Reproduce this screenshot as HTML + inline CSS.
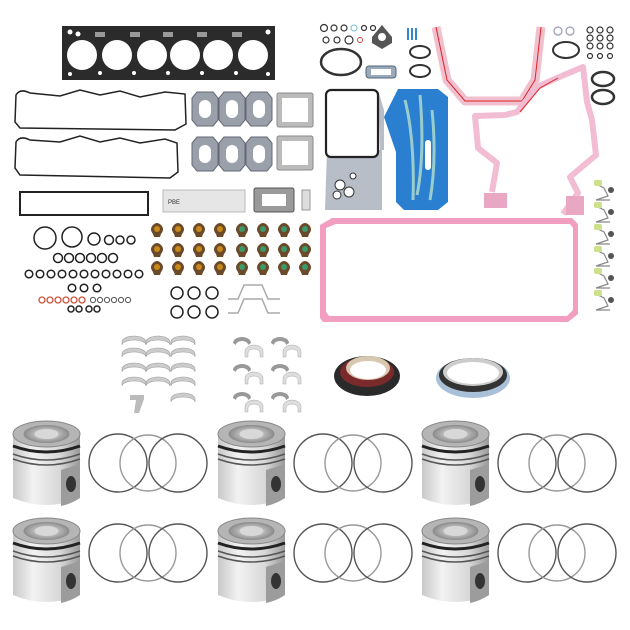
<!DOCTYPE html>
<html><head><meta charset="utf-8"><style>
html,body{margin:0;padding:0;background:#fff;width:630px;height:630px;overflow:hidden}
svg{display:block}
</style></head><body>
<svg width="630" height="630" viewBox="0 0 630 630" xmlns="http://www.w3.org/2000/svg">
<defs>
<linearGradient id="pb" x1="0" x2="1"><stop offset="0" stop-color="#c9c9c9"/><stop offset=".3" stop-color="#f2f2f2"/><stop offset=".7" stop-color="#d8d8d8"/><stop offset="1" stop-color="#9a9a9a"/></linearGradient>
<radialGradient id="pc"><stop offset="0" stop-color="#eee"/><stop offset="1" stop-color="#8a8a8a"/></radialGradient>
<g id="piston">
<path d="M0,14 L0,78 Q33,92 67,78 L67,14 Z" fill="url(#pb)"/>
<path d="M48,50 L67,44 L67,78 Q58,84 48,86 Z" fill="#9c9c9c"/>
<ellipse cx="58" cy="64" rx="5" ry="8" fill="#333"/>
<path d="M0,26 Q33,38 67,26" stroke="#222" stroke-width="3" fill="none"/>
<path d="M0,34 Q33,46 67,34" stroke="#555" stroke-width="1.5" fill="none"/>
<path d="M0,39 Q33,51 67,39" stroke="#555" stroke-width="1.5" fill="none"/>
<ellipse cx="33.5" cy="14" rx="33.5" ry="13" fill="#b5b5b5" stroke="#888"/>
<ellipse cx="33.5" cy="14" rx="23" ry="9" fill="url(#pc)"/>
<ellipse cx="33.5" cy="14" rx="12" ry="5" fill="#d8d8d8"/>
</g>
<g id="rings" fill="none" stroke-width="1.4">
<circle cx="0" cy="0" r="29" stroke="#555"/>
<circle cx="30" cy="0" r="28" stroke="#999"/>
<circle cx="60" cy="0" r="29" stroke="#555"/>
</g>
<g id="seal"><path d="M0,0 q-4,-5 0,-9 q4,-4 8,0 q4,4 0,9 l-1,3 h-6 z" fill="#6b4a2a"/><circle cx="4" cy="-5" r="3"/></g>
<g id="rodb"><path d="M0,0 a9,6 0 0 1 18,0 l-3,2 a6,4 0 0 0 -12,0 z" fill="#999"/><path d="M12,8 a9,6 0 0 1 18,0 v6 l-3,0 v-4 a6,4 0 0 0 -12,0 v4 h-3z" fill="#ddd" stroke="#aaa" stroke-width=".5"/></g>
<g id="mainb"><path d="M0,6 a12,6 0 0 1 24,0 v3 a12,5 0 0 0 -24,0 z" fill="#ccc" stroke="#999" stroke-width=".6"/></g>
<g id="exh"><path d="M5,0 h16 l5,6 v22 l-5,6 h-16 l-5,-6 v-22z" fill="#9aa0aa" stroke="#667"/><rect x="7" y="8" width="12" height="18" rx="6" fill="#fff"/></g>
</defs>

<!-- head gasket -->
<rect x="62" y="26" width="213" height="54" fill="#2b2b2b"/>
<g fill="#fff"><circle cx="82" cy="55" r="15"/><circle cx="117" cy="55" r="15"/><circle cx="152" cy="55" r="15"/><circle cx="185" cy="55" r="15"/><circle cx="218" cy="55" r="15"/><circle cx="253" cy="55" r="15"/></g>
<g fill="#fff"><circle cx="70" cy="32" r="2.5"/><circle cx="78" cy="34" r="2.5"/><circle cx="70" cy="74" r="2"/><circle cx="268" cy="32" r="2.5"/><circle cx="268" cy="74" r="2"/><circle cx="100" cy="73" r="2"/><circle cx="134" cy="73" r="2"/><circle cx="168" cy="73" r="2"/><circle cx="202" cy="73" r="2"/><circle cx="236" cy="73" r="2"/></g>
<g fill="#999"><rect x="95" y="32" width="10" height="5"/><rect x="130" y="32" width="10" height="5"/><rect x="163" y="32" width="10" height="5"/><rect x="197" y="32" width="10" height="5"/><rect x="232" y="32" width="10" height="5"/></g>

<!-- valve cover gaskets -->
<path d="M16,95 Q20,88 30,93 L60,96 L80,90 L100,95 L120,91 L140,97 L165,92 L185,94 L186,124 L175,130 L20,128 L15,122 Z" fill="none" stroke="#222" stroke-width="1.5"/>
<path d="M16,142 Q20,135 30,140 L60,142 L80,136 L100,142 L120,138 L140,143 L165,139 L177,143 L178,172 L170,178 L20,175 L15,168 Z" fill="none" stroke="#222" stroke-width="1.5"/>

<!-- exhaust gaskets -->
<use href="#exh" x="192" y="92"/><use href="#exh" x="219" y="92"/><use href="#exh" x="246" y="92"/>
<use href="#exh" x="192" y="137"/><use href="#exh" x="219" y="137"/><use href="#exh" x="246" y="137"/>
<rect x="277" y="93" width="36" height="34" rx="2" fill="#bbb" stroke="#888"/><rect x="282" y="98" width="26" height="24" fill="#fff"/>
<rect x="277" y="136" width="36" height="34" rx="2" fill="#bbb" stroke="#888"/><rect x="282" y="141" width="26" height="24" fill="#fff"/>

<!-- long gasket, label, turbo -->
<rect x="20" y="192" width="128" height="23" fill="none" stroke="#222" stroke-width="2"/>
<rect x="163" y="190" width="82" height="22" fill="#e6e6e6" stroke="#bbb"/>
<text x="168" y="204" font-family="Liberation Sans, sans-serif" font-size="6" fill="#333">PBE</text>
<rect x="254" y="188" width="40" height="24" rx="2" fill="#9a9a9a" stroke="#555"/><rect x="262" y="194" width="24" height="12" fill="#fff"/>
<path d="M302,190 h8 v20 h-8 z" fill="#ddd" stroke="#999"/>

<!-- valve seals -->
<g fill="#c9891a">
<use href="#seal" x="153" y="234"/><use href="#seal" x="174" y="234"/><use href="#seal" x="195" y="234"/><use href="#seal" x="216" y="234"/>
<use href="#seal" x="153" y="254"/><use href="#seal" x="174" y="254"/><use href="#seal" x="195" y="254"/><use href="#seal" x="216" y="254"/>
<use href="#seal" x="153" y="272"/><use href="#seal" x="174" y="272"/><use href="#seal" x="195" y="272"/><use href="#seal" x="216" y="272"/>
</g>
<g fill="#3a9a6a">
<use href="#seal" x="238" y="234"/><use href="#seal" x="259" y="234"/><use href="#seal" x="280" y="234"/><use href="#seal" x="301" y="234"/>
<use href="#seal" x="238" y="254"/><use href="#seal" x="259" y="254"/><use href="#seal" x="280" y="254"/><use href="#seal" x="301" y="254"/>
<use href="#seal" x="238" y="272"/><use href="#seal" x="259" y="272"/><use href="#seal" x="280" y="272"/><use href="#seal" x="301" y="272"/>
</g>

<!-- left o-rings -->
<g fill="none" stroke="#222" stroke-width="1.5">
<circle cx="45" cy="238" r="11"/><circle cx="72" cy="237" r="10"/><circle cx="94" cy="239" r="6"/><circle cx="109" cy="240" r="4.5"/><circle cx="120" cy="240" r="4"/><circle cx="131" cy="240" r="4"/>
<circle cx="58" cy="258" r="4.5"/><circle cx="69" cy="258" r="4.5"/><circle cx="80" cy="258" r="4.5"/><circle cx="91" cy="258" r="4.5"/><circle cx="102" cy="258" r="4.5"/><circle cx="113" cy="258" r="4.5"/>
<circle cx="29" cy="274" r="3.8"/><circle cx="40" cy="274" r="3.8"/><circle cx="51" cy="274" r="3.8"/><circle cx="62" cy="274" r="3.8"/><circle cx="73" cy="274" r="3.8"/><circle cx="84" cy="274" r="3.8"/><circle cx="95" cy="274" r="3.8"/><circle cx="106" cy="274" r="3.8"/><circle cx="117" cy="274" r="3.8"/><circle cx="128" cy="274" r="3.8"/><circle cx="139" cy="274" r="3.8"/>
<circle cx="72" cy="288" r="3.8"/><circle cx="84" cy="288" r="3.8"/><circle cx="97" cy="288" r="3.8"/>
<circle cx="71" cy="309" r="3"/><circle cx="79" cy="309" r="3"/><circle cx="89" cy="309" r="3"/><circle cx="97" cy="309" r="3"/>
<g stroke="#555" stroke-width="1"><circle cx="93" cy="300" r="2.6"/><circle cx="100" cy="300" r="2.6"/><circle cx="107" cy="300" r="2.6"/><circle cx="114" cy="300" r="2.6"/><circle cx="121" cy="300" r="2.6"/><circle cx="128" cy="300" r="2.6"/></g>
<g stroke="#c8553a" stroke-width="1.3"><circle cx="42" cy="300" r="3"/><circle cx="50" cy="300" r="3"/><circle cx="58" cy="300" r="3"/><circle cx="66" cy="300" r="3"/><circle cx="74" cy="300" r="3"/><circle cx="82" cy="300" r="3"/></g>
<circle cx="177" cy="293" r="6"/><circle cx="194" cy="293" r="6"/><circle cx="212" cy="293" r="6"/>
<circle cx="177" cy="312" r="6"/><circle cx="194" cy="312" r="6"/><circle cx="212" cy="312" r="6"/>
</g>
<g fill="none" stroke="#aaa" stroke-width="1.5">
<path d="M228,299 h10 l6,-14 h18 l6,14 h12"/><path d="M228,313 h10 l6,-14 h18 l6,14 h12"/>
</g>

<!-- bearings -->
<use href="#mainb" x="122" y="336"/><use href="#mainb" x="146" y="336"/><use href="#mainb" x="171" y="336"/>
<use href="#mainb" x="122" y="348"/><use href="#mainb" x="146" y="348"/><use href="#mainb" x="171" y="348"/>
<use href="#mainb" x="122" y="363"/><use href="#mainb" x="146" y="363"/><use href="#mainb" x="171" y="363"/>
<use href="#mainb" x="122" y="377"/><use href="#mainb" x="146" y="377"/><use href="#mainb" x="171" y="377"/>
<use href="#mainb" x="171" y="393"/>
<path d="M130,395 h14 v4 l-5,14 h-5 l2,-13 h-6z" fill="#bbb"/>
<use href="#rodb" x="233" y="343"/><use href="#rodb" x="271" y="343"/>
<use href="#rodb" x="233" y="370"/><use href="#rodb" x="271" y="370"/>
<use href="#rodb" x="233" y="398"/><use href="#rodb" x="271" y="398"/>

<!-- crank seals -->
<ellipse cx="367" cy="376" rx="33" ry="20" fill="#2a2a2a"/><ellipse cx="367" cy="372" rx="27" ry="15" fill="#7a2a2a"/><ellipse cx="368" cy="368" rx="22" ry="12" fill="#d8c8b0"/><ellipse cx="368" cy="370" rx="18" ry="9" fill="#fff"/>
<ellipse cx="473" cy="378" rx="37" ry="20" fill="#a8c0d8"/><ellipse cx="473" cy="375" rx="34" ry="17" fill="#333"/><ellipse cx="473" cy="372" rx="30" ry="14" fill="#ccc"/><ellipse cx="473" cy="373" rx="26" ry="11" fill="#fff"/>

<!-- top small parts -->
<g fill="none" stroke="#333" stroke-width="1.2">
<circle cx="324" cy="28" r="3.5"/><circle cx="334" cy="28" r="3"/><circle cx="344" cy="28" r="3"/><circle cx="364" cy="28" r="2.5"/><circle cx="373" cy="28" r="2.5"/>
<circle cx="326" cy="40" r="3"/><circle cx="337" cy="40" r="3"/><circle cx="349" cy="40" r="4"/>
<ellipse cx="341" cy="62" rx="20" ry="13" stroke-width="2.5"/>
<ellipse cx="420" cy="52" rx="10" ry="6" stroke-width="2"/><ellipse cx="420" cy="71" rx="10" ry="6" stroke-width="2"/>
</g>
<circle cx="354" cy="28" r="3" fill="none" stroke="#7bc"/><circle cx="360" cy="40" r="2.5" fill="none" stroke="#d44"/>
<path d="M372,37 l10,-12 l10,12 v6 l-10,6 l-10,-6z" fill="#555"/><circle cx="382" cy="37" r="4" fill="#fff"/>
<rect x="366" y="66" width="30" height="12" rx="3" fill="#9ab" stroke="#567"/><rect x="371" y="69" width="20" height="6" fill="#fff"/>
<g fill="#38c"><rect x="407" y="28" width="2" height="12"/><rect x="411" y="28" width="2" height="12"/><rect x="415" y="28" width="2" height="12"/></g>

<!-- oil cooler gasket -->
<path d="M327,150 h55 v60 h-57z" fill="#b8bec8"/>
<path d="M378,90 l6,20 v40 h-4z" fill="#b8bec8"/>
<rect x="326" y="90" width="52" height="67" rx="5" fill="#fff" stroke="#222" stroke-width="2.2"/>
<g fill="#fff" stroke="#333"><circle cx="340" cy="185" r="5"/><circle cx="349" cy="192" r="5"/><circle cx="337" cy="195" r="4"/><circle cx="353" cy="176" r="3"/></g>

<!-- blue gasket -->
<path d="M398,89 h40 l10,8 v105 l-10,8 h-34 l-8,-8 v-50 l-12,-35z" fill="#2a7fd0"/>
<path d="M405,100 q10,40 8,100 M420,95 q5,60 -3,100 M432,110 q5,50 -2,90" stroke="#9cc" stroke-width="3" fill="none"/>
<rect x="425" y="140" width="6" height="30" rx="3" fill="#fff"/>

<!-- pink gaskets -->
<path d="M436,27 L447,80 L465,101 L522,101 L535,80 L541,27" fill="none" stroke="#f0c0cf" stroke-width="9" stroke-linejoin="round"/>
<path d="M436,27 L447,80 L465,101 L522,101 L535,80 L541,27" fill="none" stroke="#d22" stroke-width="1"/>
<path d="M563,214 L578,193 L570,177 L596,155 L592,120 L587,102 L583,67 L557,78 L537,87 L517,112 L505,115 L475,116 L478,148 L497,163 L492,192" fill="none" stroke="#f2bcd2" stroke-width="6" stroke-linejoin="round"/>
<rect x="484" y="193" width="23" height="15" fill="#e8a8c4"/>
<rect x="566" y="196" width="18" height="19" fill="#e8a8c4"/>
<path d="M520,112 L540,88 L558,78" fill="none" stroke="#d22" stroke-width="1"/>
<path d="M320,225 l12,-7 h240 l6,6 v90 l-10,8 h-245 l-3,-4z" fill="#f29ec0"/>
<path d="M326,228 l10,-4 h234 l3,4 v82 l-6,6 h-238 l-3,-4z" fill="#fff"/>

<!-- right o-rings -->
<g fill="none" stroke="#333" stroke-width="1.2">
<circle cx="558" cy="31" r="4" stroke="#99b"/><circle cx="570" cy="31" r="4" stroke="#99b"/>
<ellipse cx="566" cy="50" rx="13" ry="8" stroke-width="2"/>
<circle cx="590" cy="30" r="3"/><circle cx="600" cy="30" r="3"/><circle cx="610" cy="30" r="3"/>
<circle cx="590" cy="38" r="3"/><circle cx="600" cy="38" r="3"/><circle cx="610" cy="38" r="3"/>
<circle cx="590" cy="46" r="3"/><circle cx="600" cy="46" r="3"/><circle cx="610" cy="46" r="3"/>
<circle cx="590" cy="56" r="2.5"/><circle cx="600" cy="56" r="2.5"/><circle cx="610" cy="56" r="2.5"/>
<ellipse cx="603" cy="79" rx="11" ry="7" stroke-width="2.5"/><ellipse cx="603" cy="97" rx="11" ry="7" stroke-width="2.5"/>
</g>

<!-- clips -->
<g stroke="#888" stroke-width="1.2" fill="none">
<path d="M596,184 l8,4 l4,8 l-12,4 h14"/><path d="M596,206 l8,4 l4,8 l-12,4 h14"/><path d="M596,228 l8,4 l4,8 l-12,4 h14"/>
<path d="M596,250 l8,4 l4,8 l-12,4 h14"/><path d="M596,272 l8,4 l4,8 l-12,4 h14"/><path d="M596,294 l8,4 l4,8 l-12,4 h14"/>
</g>
<g fill="#cde08a"><rect x="594" y="180" width="8" height="6" rx="2"/><rect x="594" y="202" width="8" height="6" rx="2"/><rect x="594" y="224" width="8" height="6" rx="2"/><rect x="594" y="246" width="8" height="6" rx="2"/><rect x="594" y="268" width="8" height="6" rx="2"/><rect x="594" y="290" width="8" height="6" rx="2"/></g>
<g fill="#555"><circle cx="611" cy="190" r="3"/><circle cx="611" cy="212" r="3"/><circle cx="611" cy="234" r="3"/><circle cx="611" cy="256" r="3"/><circle cx="611" cy="278" r="3"/><circle cx="611" cy="300" r="3"/></g>

<!-- pistons and rings -->
<use href="#piston" x="13" y="420"/><use href="#piston" x="218" y="420"/><use href="#piston" x="422" y="420"/>
<use href="#piston" x="13" y="517"/><use href="#piston" x="218" y="517"/><use href="#piston" x="422" y="517"/>
<use href="#rings" x="118" y="463"/><use href="#rings" x="323" y="463"/><use href="#rings" x="527" y="463"/>
<use href="#rings" x="118" y="553"/><use href="#rings" x="323" y="553"/><use href="#rings" x="527" y="553"/>
</svg>
</body></html>
